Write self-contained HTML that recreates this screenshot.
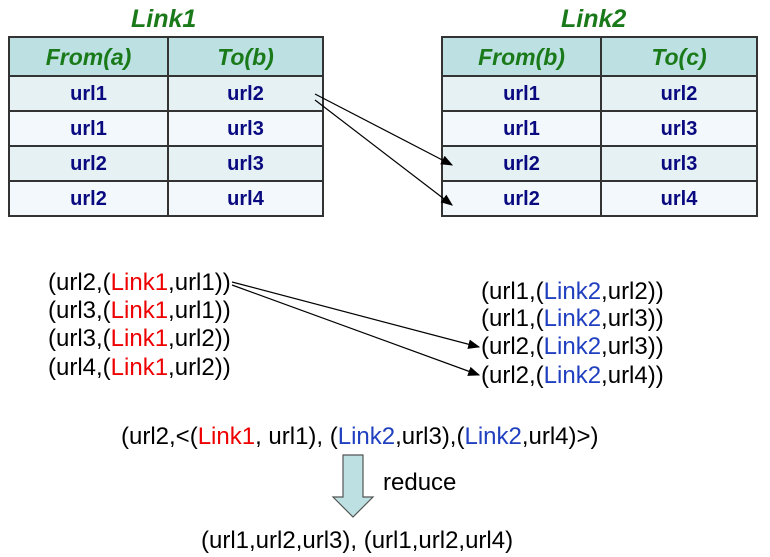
<!DOCTYPE html><html><head><style>
body{margin:0;width:770px;height:557px;background:#fff;position:relative;font-family:"Liberation Sans",sans-serif;overflow:hidden}
.t{position:absolute;white-space:nowrap;font-size:24px;color:#000;line-height:28px}
.r{color:#e00}.b{color:#2040c0}
table{position:absolute;border-collapse:collapse;}
td{border:2px solid #333;text-align:center;font-weight:bold;color:#0a0a80;font-size:20px;padding:0;height:33px;line-height:20px}
tr.h td{background:#bde0e3;color:#1a7a1a;font-style:italic;font-size:23px;height:37px}
tr.a td{background:#e6f1f3}tr.c td{background:#f2f8fb}
.ti{position:absolute;font-weight:bold;font-style:italic;color:#1a7a1a;font-size:25px}
</style></head><body>
<div class="ti" style="left:131px;top:5px">Link1</div>
<div class="ti" style="left:561px;top:5px">Link2</div>
<table style="left:8px;top:36px;width:316px"><tr class="h"><td style="width:157px">From(a)</td><td>To(b)</td></tr>
<tr class="a"><td>url1</td><td>url2</td></tr><tr class="c"><td>url1</td><td>url3</td></tr>
<tr class="a"><td>url2</td><td>url3</td></tr><tr class="c"><td>url2</td><td>url4</td></tr></table>
<table style="left:441px;top:36px;width:317px"><tr class="h"><td style="width:157px">From(b)</td><td>To(c)</td></tr>
<tr class="a"><td>url1</td><td>url2</td></tr><tr class="c"><td>url1</td><td>url3</td></tr>
<tr class="a"><td>url2</td><td>url3</td></tr><tr class="c"><td>url2</td><td>url4</td></tr></table>
<svg style="position:absolute;left:0;top:0" width="770" height="557">
<defs><marker id="m" markerWidth="10" markerHeight="8" refX="9" refY="4" orient="auto"><path d="M0,0L10,4L0,8z" fill="#000"/></marker></defs>
<g stroke="#000" stroke-width="1.2" marker-end="url(#m)">
<line x1="315" y1="94" x2="452" y2="165"/><line x1="315" y1="100" x2="452" y2="205"/>
<line x1="232" y1="282" x2="479" y2="347"/><line x1="232" y1="285" x2="479" y2="375"/></g>
<path d="M343,455H363V497H373L353,517L333,497H343Z" fill="#bde0e3" stroke="#555" stroke-width="1.2"/>
</svg>
<div class="t" style="left:48px;top:269px">(url2,(<span class="r">Link1</span>,url1))</div>
<div class="t" style="left:48px;top:297px">(url3,(<span class="r">Link1</span>,url1))</div>
<div class="t" style="left:48px;top:325px">(url3,(<span class="r">Link1</span>,url2))</div>
<div class="t" style="left:48px;top:354px">(url4,(<span class="r">Link1</span>,url2))</div>
<div class="t" style="left:481px;top:278px">(url1,(<span class="b">Link2</span>,url2))</div>
<div class="t" style="left:481px;top:305px">(url1,(<span class="b">Link2</span>,url3))</div>
<div class="t" style="left:481px;top:333px">(url2,(<span class="b">Link2</span>,url3))</div>
<div class="t" style="left:481px;top:362px">(url2,(<span class="b">Link2</span>,url4))</div>
<div class="t" style="left:121px;top:423px">(url2,&lt;(<span class="r">Link1</span>, url1), (<span class="b">Link2</span>,url3),(<span class="b">Link2</span>,url4)&gt;)</div>
<div class="t" style="left:383px;top:469px">reduce</div>
<div class="t" style="left:201px;top:527px">(url1,url2,url3), (url1,url2,url4)</div>
</body></html>
